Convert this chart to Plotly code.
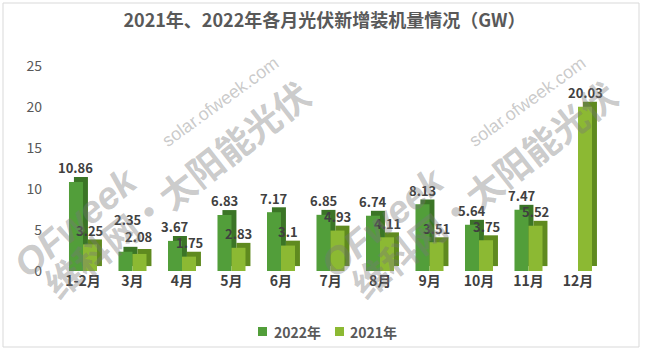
import plotly.graph_objects as go

categories = ["1-2月", "3月", "4月", "5月", "6月", "7月", "8月", "9月", "10月", "11月", "12月"]
values_2022 = [10.86, 2.35, 3.67, 6.83, 7.17, 6.85, 6.74, 8.13, 5.64, 7.47, None]
values_2021 = [3.25, 2.08, 1.75, 2.83, 3.1, 4.93, 4.11, 3.51, 3.75, 5.52, 20.03]
series_names = ["2022年", "2021年"]
title_text = "2021年、2022年各月光伏新增装机量情况（GW）"
y_ticks = [0, 5, 10, 15, 20, 25]

W, H = 649, 353
L, R, T, B = 57, 36, 59, 82
PW, PH = W - L - R, H - T - B

def px(x):
    return (x - L) / PW

def py(y):
    return (H - B - y) / PH

FONT = "Noto Sans CJK SC, Noto Sans, sans-serif"
front_cols = ["#529E3A", "#8CB933"]
side_cols = ["#3B7526", "#5F8A1F"]
bw = 0.283
dx = 0.1
dy = 0.6

fig = go.Figure()
xs = list(range(len(categories)))
all_series = [values_2022, values_2021]
offsets = [-bw, 0.0]

for i, vals in enumerate(all_series):
    fig.add_trace(go.Bar(
        x=xs, y=vals, base=dy, width=bw, offset=offsets[i] + dx, yaxis="y2",
        marker=dict(color=side_cols[i], line=dict(width=0)),
        showlegend=False, hoverinfo="skip",
    ))
for i, vals in enumerate(all_series):
    fig.add_trace(go.Bar(
        x=xs, y=vals, width=bw, offset=offsets[i], yaxis="y2",
        name=series_names[i],
        marker=dict(color=front_cols[i], line=dict(width=0)),
        showlegend=False,
    ))

# data labels (3月 labels are lifted apart as in the reference)
for i, vals in enumerate(all_series):
    for k, v in enumerate(vals):
        if v is None:
            continue
        ys = 14
        xsft = 0
        if k == 1 and i == 0:
            ys, xsft = 32, 2
        elif k == 1 and i == 1:
            ys = 17
        fig.add_annotation(x=k + offsets[i] + bw / 2, y=v, xref="x", yref="y2",
                           xanchor="center", yanchor="middle", showarrow=False,
                           yshift=ys, xshift=xsft, text=str(v),
                           font=dict(family=FONT, size=13, color="#404040", weight="bold"))

fig.update_layout(
    width=W, height=H,
    margin=dict(l=L, r=R, t=T, b=B, pad=0),
    paper_bgcolor="white", plot_bgcolor="white",
    barmode="overlay",
    showlegend=False,
    title=dict(text=title_text, x=0.5, xanchor="center", xref="container",
               y=1 - 21 / H, yanchor="middle", yref="container",
               font=dict(family=FONT, size=18, color="#595959", weight="bold")),
    xaxis=dict(range=[-0.525, 10.707], tickvals=xs, ticktext=categories,
               showgrid=False, zeroline=False, showline=False, ticks="",
               tickfont=dict(family=FONT, size=14, color="#404040", weight="bold")),
    yaxis=dict(range=[-0.85, 25], tickvals=y_ticks, showticklabels=False,
               showgrid=True, gridcolor="#D9D9D9", gridwidth=1,
               zeroline=False, showline=False, ticks=""),
    yaxis2=dict(range=[0, 25.85], tickvals=y_ticks, overlaying="y", side="left",
                showgrid=False, zeroline=False, showline=False, ticks="",
                ticklabelstandoff=14,
                tickfont=dict(family=FONT, size=14, color="#595959")),
)

# chart border
fig.add_shape(type="rect", xref="paper", yref="paper",
              x0=px(3), x1=px(639), y0=py(347), y1=py(3),
              line=dict(color="#D9D9D9", width=1), fillcolor="rgba(0,0,0,0)", layer="below")

# custom legend
legend_sq_x = [258, 335]
legend_txt_x = [272, 348]
for i in range(2):
    fig.add_shape(type="rect", xref="paper", yref="paper",
                  x0=px(legend_sq_x[i]), x1=px(legend_sq_x[i] + 9),
                  y0=py(336), y1=py(327),
                  line=dict(width=0), fillcolor=front_cols[i])
    fig.add_annotation(x=px(legend_txt_x[i]), y=py(331.5), xref="paper", yref="paper",
                       xanchor="left", yanchor="middle", showarrow=False,
                       text=series_names[i],
                       font=dict(family=FONT, size=14, color="#595959", weight="bold"))

# watermarks
wm_col = "rgba(120,120,120,0.40)"
for shift in [0, 307]:
    fig.add_annotation(x=px(176 + shift), y=py(188), xref="paper", yref="paper",
                       xanchor="center", yanchor="middle",
                       text="<b>维科网·太阳能光伏</b>", showarrow=False, textangle=-38,
                       font=dict(family=FONT, size=36, color=wm_col))
    fig.add_annotation(x=px(76 + shift), y=py(222), xref="paper", yref="paper",
                       xanchor="center", yanchor="middle",
                       text="<b><i>OFweek</i></b>", showarrow=False, textangle=-40,
                       font=dict(family="Liberation Sans, Arial, sans-serif", size=38, color=wm_col))
    fig.add_annotation(x=px(220 + shift), y=py(102), xref="paper", yref="paper",
                       xanchor="center", yanchor="middle",
                       text="solar.ofweek.com", showarrow=False, textangle=-36,
                       font=dict(family="Liberation Sans, Arial, sans-serif", size=18, color=wm_col))

fig.write_html("out.html")
